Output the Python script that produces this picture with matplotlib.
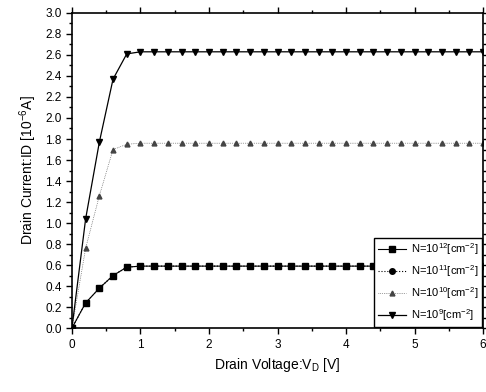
import matplotlib
matplotlib.use("Agg")
import matplotlib.pyplot as plt
from matplotlib.ticker import MultipleLocator, FormatStrFormatter

plt.rcParams['font.family'] = ['Liberation Sans', 'DejaVu Sans']
plt.rcParams['mathtext.fontset'] = 'custom'
plt.rcParams['mathtext.rm'] = 'Liberation Sans'
plt.rcParams['mathtext.it'] = 'Liberation Sans'

# drain voltage steps (V)
vd = [0.0, 0.2, 0.4, 0.6, 0.8, 1.0, 1.2, 1.4, 1.6, 1.8, 2.0, 2.2, 2.4, 2.6, 2.8, 3.0,
      3.2, 3.4, 3.6, 3.8, 4.0, 4.2, 4.4, 4.6, 4.8, 5.0, 5.2, 5.4, 5.6, 5.8, 6.0]
n_flat = len(vd) - 5

# drain current (1e-6 A) for each doping level
id_12 = [0.0, 0.24, 0.38, 0.50, 0.58] + [0.59] * n_flat
id_11 = [0.0, 0.24, 0.38, 0.50, 0.58] + [0.59] * n_flat
id_10 = [0.0, 0.76, 1.26, 1.70, 1.75] + [1.76] * n_flat
id_9 = [0.0, 1.04, 1.77, 2.37, 2.61] + [2.63] * n_flat

labels = [r"N=10$^{12}$[cm$^{-2}$]", r"N=10$^{11}$[cm$^{-2}$]",
          r"N=10$^{10}$[cm$^{-2}$]", r"N=10$^{9}$[cm$^{-2}$]"]

fig = plt.figure(figsize=(4.86, 3.92), dpi=100)
ax = fig.add_axes([0.148, 0.163, 0.846, 0.804])

ax.plot(vd, id_12, color="black", marker="s", ms=5, lw=0.8, ls="-", label=labels[0])
ax.plot(vd, id_11, color="black", marker="o", ms=4, lw=0.8, ls=":", label=labels[1])
ax.plot(vd, id_10, color="#444444", marker="^", ms=3.5, lw=0.5, ls=":", label=labels[2])
ax.plot(vd, id_9, color="black", marker="v", ms=5, lw=0.9, ls="-", label=labels[3])

ax.set_xlim(0, 6)
ax.set_ylim(0, 3.0)
ax.xaxis.set_major_locator(MultipleLocator(1))
ax.xaxis.set_minor_locator(MultipleLocator(0.5))
ax.yaxis.set_major_locator(MultipleLocator(0.2))
ax.yaxis.set_minor_locator(MultipleLocator(0.1))
ax.yaxis.set_major_formatter(FormatStrFormatter("%.1f"))
ax.tick_params(which="both", direction="out", labelsize=8.5, width=1)
ax.tick_params(which="major", length=4)
ax.tick_params(which="minor", length=2)
ax.tick_params(which="both", top=True, right=True)
for side in ["left", "bottom", "top", "right"]:
    ax.spines[side].set_linewidth(1.2)

ax.set_xlabel(r"Drain Voltage:V$_D$ [V]", fontsize=10)
ax.set_ylabel(r"Drain Current:ID [10$^{-6}$A]", fontsize=10)

leg = ax.legend(loc="lower right", fontsize=8, frameon=True, fancybox=False,
                edgecolor="black", framealpha=1, handlelength=2.5,
                handletextpad=0.4, borderaxespad=0.1, borderpad=0.35,
                labelspacing=0.55)
leg.get_frame().set_linewidth(1.0)

fig.savefig("out.png", dpi=100)
